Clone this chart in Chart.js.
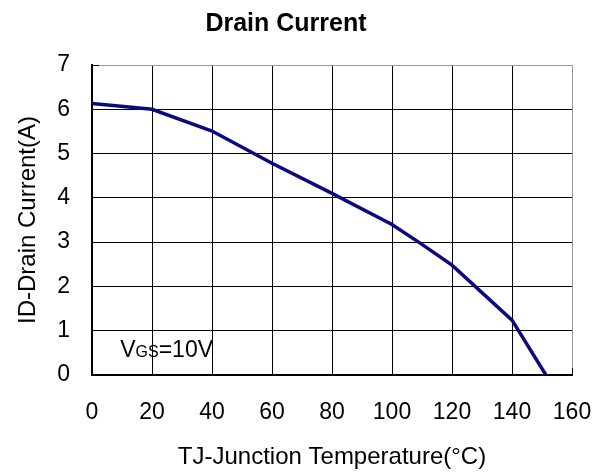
<!DOCTYPE html>
<html>
<head>
<meta charset="utf-8">
<script src="https://cdn.jsdelivr.net/npm/chart.js@4/dist/chart.umd.min.js"></script>
<style>
html,body{margin:0;padding:0;background:#fff;}
#wrap{width:604px;height:474px;}
</style>
</head>
<body>
<div id="wrap"><canvas id="c" width="604" height="474"></canvas></div>
<script>
const temperatures = [0, 20, 40, 60, 80, 100, 110, 120, 140, 151.3];
const drainCurrent = [6.13, 6.0, 5.51, 4.78, 4.1, 3.4, 2.95, 2.48, 1.24, 0];
const xTicks = [0, 20, 40, 60, 80, 100, 120, 140, 160];
const yTicks = [0, 1, 2, 3, 4, 5, 6, 7];

const FONT = "'Liberation Sans', Arial, sans-serif";

const extras = {
  id: 'extras',
  afterDatasetsDraw(chart) {
    const {ctx, scales, chartArea} = chart;
    ctx.save();
    // short inner tick marks at the top-left and bottom-right corners
    ctx.strokeStyle = '#000';
    ctx.lineWidth = 1;
    const yTop = Math.round(scales.y.getPixelForValue(7)) + 0.5;
    ctx.beginPath();
    ctx.moveTo(chartArea.left, yTop);
    ctx.lineTo(chartArea.left + 7, yTop);
    const xR = Math.round(scales.x.getPixelForValue(160)) + 0.5;
    ctx.moveTo(xR, chartArea.bottom);
    ctx.lineTo(xR, chartArea.bottom - 7);
    ctx.stroke();
    // VGS annotation
    const x0 = scales.x.getPixelForValue(9.4);
    const y0 = scales.y.getPixelForValue(0.41);
    ctx.fillStyle = '#000';
    ctx.textBaseline = 'alphabetic';
    ctx.textAlign = 'left';
    let x = x0;
    ctx.font = '23px ' + FONT;
    ctx.fillText('V', x, y0); x += ctx.measureText('V').width;
    ctx.font = '16px ' + FONT;
    ctx.fillText('GS', x, y0); x += ctx.measureText('GS').width;
    ctx.font = '23px ' + FONT;
    ctx.fillText('=10V', x, y0);
    ctx.restore();
  }
};

new Chart(document.getElementById('c'), {
  type: 'line',
  data: {
    datasets: [{
      data: temperatures.map((t, i) => ({x: t, y: drainCurrent[i]})),
      borderColor: '#0a0a80',
      borderWidth: 3.5,
      pointRadius: 0,
      tension: 0,
      fill: false
    }]
  },
  options: {
    responsive: false,
    animation: false,
    layout: {padding: {left: 0, right: 32, top: 0, bottom: 0}},
    plugins: {
      legend: {display: false},
      tooltip: {enabled: false},
      title: {
        display: true,
        text: 'Drain Current',
        color: '#000',
        font: {family: FONT, size: 25, weight: 'bold'},
        padding: {top: 9, bottom: 26}
      }
    },
    scales: {
      x: {
        type: 'linear',
        min: 0, max: 160,
        afterBuildTicks: s => { s.ticks = xTicks.map(v => ({value: v})); },
        afterFit: s => { s.height = 99; },
        ticks: {color: '#000', font: {family: FONT, size: 23}, padding: 0, maxRotation: 0},
        grid: {
          color: c => (c.tick && c.tick.value === 160) ? '#999' : '#000',
          lineWidth: 1, drawTicks: true, tickLength: 24, tickColor: 'rgba(0,0,0,0)'
        },
        border: {color: '#000', width: 2},
        title: {
          display: true,
          text: 'TJ-Junction Temperature(°C)',
          color: '#000',
          font: {family: FONT, size: 24},
          padding: {top: 0, bottom: 2}
        }
      },
      y: {
        min: 0, max: 7,
        afterBuildTicks: s => { s.ticks = yTicks.map(v => ({value: v})); },
        afterFit: s => { s.width = 92; },
        ticks: {color: '#000', font: {family: FONT, size: 23}, padding: 22},
        grid: {
          color: c => (c.tick && c.tick.value === 7) ? '#999' : '#000',
          lineWidth: 1, drawTicks: false
        },
        border: {color: '#000', width: 2},
        title: {
          display: true,
          text: 'ID-Drain Current(A)',
          color: '#000',
          font: {family: FONT, size: 24},
          padding: {top: 13.6, bottom: 0}
        }
      }
    }
  },
  plugins: [extras]
});
</script>
</body>
</html>
